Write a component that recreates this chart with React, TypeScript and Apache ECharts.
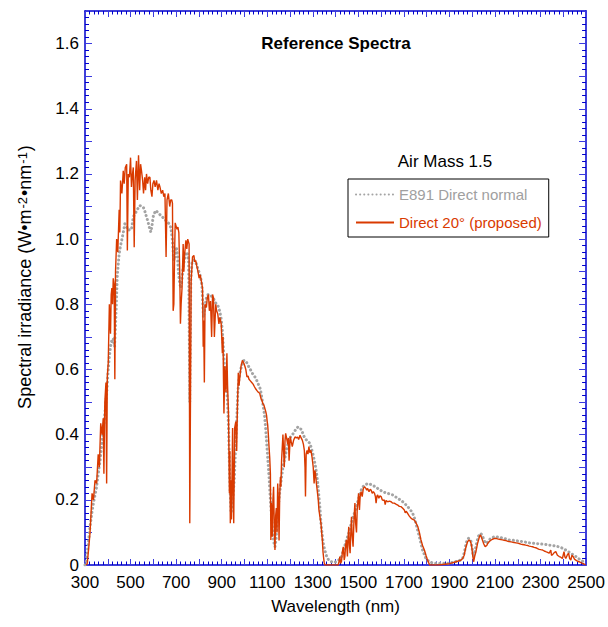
import { useEffect, useRef } from "react";
import * as echarts from "echarts";

// E891 Direct normal (smooth reference spectrum)
const e891Wavelength = [
  300, 305, 315, 322, 330, 337, 344, 351, 358, 366, 373, 380, 388, 395, 402, 407, 412, 418, 424, 430,
  436, 442, 450, 456, 461, 468, 475, 482, 490, 497, 504, 512, 519, 526, 533, 541, 548, 556, 563, 570,
  576, 581, 585, 589, 594, 599, 605, 611, 618, 625, 632, 640, 647, 655, 662, 670, 677, 684, 688, 691,
  695, 701, 706, 710, 715, 720, 725, 730, 737, 744, 750, 755, 760, 765, 770, 778, 786, 793, 800, 807,
  813, 820, 826, 833, 840, 848, 855, 862, 870, 877, 884, 891, 897, 903, 908, 914, 920, 926, 931, 936,
  941, 946, 951, 956, 961, 966, 971, 976, 983, 990, 997, 1004, 1011, 1018, 1026, 1033, 1040, 1048, 1055, 1062,
  1070, 1077, 1083, 1088, 1093, 1098, 1103, 1108, 1113, 1119, 1124, 1129, 1134, 1139, 1144, 1150, 1156, 1163, 1170, 1178,
  1185, 1192, 1200, 1208, 1215, 1222, 1229, 1236, 1243, 1251, 1258, 1265, 1273, 1280, 1288, 1295, 1302, 1310, 1317, 1322,
  1327, 1332, 1336, 1341, 1346, 1353, 1361, 1370, 1382, 1393, 1404, 1415, 1426, 1437, 1448, 1459, 1470, 1481, 1492, 1500,
  1508, 1514, 1520, 1530, 1541, 1552, 1563, 1574, 1585, 1596, 1607, 1618, 1629, 1640, 1651, 1662, 1673, 1684, 1695, 1706,
  1717, 1728, 1739, 1746, 1753, 1760, 1768, 1775, 1782, 1790, 1797, 1805, 1812, 1823, 1834, 1850, 1863, 1880, 1892, 1908,
  1922, 1940, 1950, 1958, 1966, 1973, 1979, 1984, 1990, 1995, 2000, 2005, 2010, 2016, 2022, 2027, 2031, 2038, 2044, 2049,
  2055, 2060, 2066, 2075, 2082, 2089, 2097, 2104, 2118, 2133, 2148, 2162, 2177, 2192, 2206, 2221, 2235, 2250, 2265, 2279,
  2294, 2309, 2323, 2338, 2352, 2367, 2378, 2389, 2400, 2411, 2422, 2433, 2444, 2455, 2466, 2477, 2484, 2491, 2498,
];
const e891Irradiance = [
  0, 0.005, 0.07, 0.117, 0.16, 0.19, 0.215, 0.24, 0.28, 0.32, 0.365, 0.41, 0.47, 0.525, 0.6, 0.64, 0.67, 0.69, 0.695, 0.67,
  0.77, 0.89, 0.955, 0.98, 0.996, 1.02, 1.047, 1.04, 1.027, 1.03, 1.03, 1.068, 1.078, 1.085, 1.095, 1.103, 1.1, 1.098, 1.085, 1.068,
  1.055, 1.04, 1.03, 1.022, 1.04, 1.068, 1.08, 1.088, 1.083, 1.078, 1.073, 1.068, 1.062, 1.057, 1.052, 1.047, 1.035, 0.996, 0.95, 0.935,
  0.95, 0.976, 0.95, 0.9, 0.87, 0.85, 0.87, 0.91, 0.94, 0.96, 0.955, 0.93, 0.5, 0.88, 0.93, 0.935, 0.93, 0.915, 0.9, 0.885,
  0.86, 0.76, 0.79, 0.82, 0.83, 0.83, 0.825, 0.82, 0.81, 0.8, 0.795, 0.78, 0.76, 0.72, 0.66, 0.59, 0.55, 0.5, 0.4, 0.25,
  0.16, 0.18, 0.22, 0.27, 0.36, 0.44, 0.53, 0.57, 0.6, 0.615, 0.628, 0.627, 0.62, 0.61, 0.6, 0.59, 0.583, 0.575, 0.565, 0.553,
  0.54, 0.51, 0.485, 0.46, 0.42, 0.37, 0.32, 0.27, 0.21, 0.148, 0.1, 0.07, 0.056, 0.08, 0.13, 0.19, 0.23, 0.27, 0.305, 0.33,
  0.355, 0.373, 0.39, 0.398, 0.404, 0.412, 0.42, 0.424, 0.42, 0.415, 0.4, 0.39, 0.383, 0.378, 0.373, 0.355, 0.337, 0.31, 0.28, 0.25,
  0.21, 0.17, 0.128, 0.095, 0.067, 0.045, 0.026, 0.015, 0.01, 0.008, 0.01, 0.016, 0.026, 0.05, 0.077, 0.1, 0.13, 0.155, 0.18, 0.2,
  0.22, 0.232, 0.24, 0.246, 0.25, 0.248, 0.245, 0.24, 0.235, 0.23, 0.225, 0.222, 0.22, 0.217, 0.215, 0.21, 0.204, 0.2, 0.194, 0.187,
  0.179, 0.17, 0.158, 0.145, 0.128, 0.108, 0.087, 0.066, 0.046, 0.032, 0.02, 0.014, 0.01, 0.007, 0.005, 0.005, 0.005, 0.005, 0.005, 0.007,
  0.01, 0.012, 0.016, 0.02, 0.04, 0.066, 0.078, 0.082, 0.08, 0.072, 0.05, 0.026, 0.035, 0.056, 0.075, 0.088, 0.092, 0.097, 0.09, 0.082,
  0.072, 0.066, 0.07, 0.077, 0.082, 0.085, 0.086, 0.087, 0.085, 0.083, 0.08, 0.077, 0.076, 0.075, 0.073, 0.072, 0.07, 0.068, 0.067, 0.066,
  0.065, 0.064, 0.063, 0.061, 0.06, 0.058, 0.056, 0.054, 0.05, 0.046, 0.041, 0.036, 0.031, 0.026, 0.02, 0.015, 0.012, 0.008, 0.004,
];

// Direct 20° (proposed) (high-resolution spectrum)
const direct20Wavelength = [
  305, 310, 316, 322, 331, 337, 344, 351, 358, 363, 369, 375, 380, 383, 387, 392, 395, 398, 402, 407,
  410, 412, 415, 418, 421, 424, 428, 431, 434, 439, 444, 450, 453, 456, 462, 468, 472, 477, 483, 486,
  490, 495, 500, 504, 507, 512, 516, 520, 526, 530, 535, 540, 544, 548, 553, 557, 562, 566, 570, 575,
  580, 585, 589, 594, 598, 603, 608, 614, 620, 625, 629, 635, 641, 646, 651, 656, 660, 666, 672, 676,
  681, 684, 687, 690, 694, 696, 700, 704, 708, 712, 716, 719, 722, 726, 731, 734, 737, 743, 747, 751,
  757, 760, 763, 766, 772, 778, 782, 786, 790, 795, 801, 806, 810, 816, 819, 821, 824, 827, 833, 837,
  842, 846, 851, 856, 860, 864, 868, 874, 878, 883, 888, 892, 898, 903, 906, 908, 910, 914, 919, 923,
  926, 930, 934, 936, 938, 941, 943, 946, 948, 950, 953, 957, 962, 966, 969, 973, 976, 979, 985, 991,
  997, 1002, 1006, 1011, 1016, 1020, 1026, 1032, 1038, 1044, 1050, 1055, 1061, 1067, 1073, 1077, 1081, 1086, 1090, 1094,
  1097, 1100, 1102, 1105, 1108, 1111, 1114, 1116, 1118, 1120, 1122, 1125, 1128, 1131, 1134, 1137, 1140, 1143, 1146, 1149,
  1152, 1155, 1158, 1160, 1163, 1166, 1169, 1172, 1175, 1178, 1181, 1185, 1190, 1193, 1196, 1201, 1205, 1210, 1216, 1222,
  1228, 1233, 1238, 1244, 1249, 1254, 1259, 1263, 1266, 1268, 1271, 1275, 1279, 1283, 1287, 1292, 1297, 1302, 1306, 1309,
  1312, 1316, 1321, 1324, 1327, 1331, 1336, 1339, 1342, 1345, 1347, 1350, 1353, 1360, 1380, 1400, 1412, 1415, 1419, 1422,
  1426, 1430, 1434, 1438, 1441, 1444, 1448, 1452, 1455, 1458, 1461, 1464, 1467, 1470, 1473, 1477, 1481, 1485, 1488, 1492,
  1495, 1499, 1501, 1505, 1508, 1512, 1517, 1522, 1527, 1533, 1537, 1541, 1547, 1552, 1556, 1561, 1566, 1571, 1575, 1578,
  1582, 1585, 1590, 1595, 1600, 1605, 1610, 1614, 1618, 1622, 1629, 1636, 1644, 1650, 1658, 1665, 1673, 1680, 1688, 1695,
  1702, 1706, 1710, 1717, 1724, 1732, 1739, 1746, 1754, 1761, 1768, 1775, 1782, 1790, 1797, 1804, 1810, 1813, 1850, 1900,
  1929, 1951, 1958, 1965, 1969, 1973, 1980, 1987, 1991, 1995, 1999, 2002, 2006, 2009, 2012, 2016, 2019, 2023, 2028, 2031,
  2035, 2038, 2042, 2046, 2050, 2054, 2057, 2060, 2064, 2068, 2075, 2082, 2089, 2096, 2104, 2111, 2119, 2126, 2133, 2140,
  2148, 2155, 2162, 2170, 2177, 2185, 2192, 2199, 2206, 2213, 2221, 2228, 2235, 2243, 2250, 2257, 2265, 2272, 2279, 2287,
  2294, 2301, 2309, 2316, 2323, 2331, 2338, 2345, 2348, 2352, 2360, 2367, 2374, 2382, 2389, 2396, 2403, 2407, 2411, 2417,
  2423, 2428, 2433, 2438, 2443, 2449, 2455, 2462, 2469, 2477, 2484, 2491, 2498,
];
const direct20Irradiance = [
  0, 0.005, 0.05, 0.098, 0.22, 0.2, 0.26, 0.25, 0.34, 0.3, 0.435, 0.4, 0.45, 0.28, 0.5, 0.56, 0.25, 0.58, 0.62, 0.8,
  0.74, 0.71, 0.83, 0.85, 0.8, 0.88, 0.86, 0.57, 0.9, 1.0, 0.96, 1.09, 1.02, 1.18, 1.14, 1.21, 1.17, 1.22, 1.23, 0.965,
  1.2, 1.19, 1.25, 1.16, 1.19, 1.22, 0.975, 1.18, 1.24, 1.12, 1.257, 1.15, 1.23, 1.21, 1.18, 1.14, 1.19, 1.15, 1.2, 1.17,
  1.19, 1.19, 1.15, 1.13, 1.17, 1.18, 1.16, 1.18, 1.15, 1.17, 1.16, 1.14, 1.15, 1.13, 1.14, 0.945, 1.12, 1.14, 1.1, 1.12,
  1.12, 1.11, 0.78, 0.8, 0.98, 1.05, 1.04, 1.03, 1.037, 1.02, 0.9, 0.74, 0.8, 0.85, 0.985, 0.9, 0.95, 0.996, 0.97, 1.0,
  0.985, 0.128, 0.5, 0.87, 0.945, 0.95, 0.93, 0.935, 0.92, 0.904, 0.88, 0.89, 0.874, 0.85, 0.67, 0.75, 0.56, 0.8, 0.79, 0.82,
  0.83, 0.78, 0.81, 0.7, 0.83, 0.82, 0.7, 0.8, 0.78, 0.77, 0.74, 0.76, 0.74, 0.65, 0.7, 0.57, 0.465, 0.61, 0.53, 0.65,
  0.55, 0.466, 0.22, 0.35, 0.128, 0.26, 0.14, 0.3, 0.42, 0.25, 0.128, 0.42, 0.44, 0.35, 0.475, 0.59, 0.55, 0.57, 0.61, 0.628,
  0.62, 0.61, 0.6, 0.577, 0.58, 0.57, 0.565, 0.56, 0.555, 0.547, 0.54, 0.535, 0.53, 0.527, 0.51, 0.505, 0.495, 0.49, 0.48, 0.47,
  0.46, 0.44, 0.43, 0.4, 0.363, 0.33, 0.28, 0.077, 0.19, 0.15, 0.087, 0.2, 0.24, 0.12, 0.046, 0.15, 0.175, 0.1, 0.25, 0.2,
  0.075, 0.22, 0.27, 0.24, 0.32, 0.36, 0.4, 0.35, 0.3, 0.38, 0.404, 0.39, 0.37, 0.39, 0.32, 0.394, 0.38, 0.363, 0.383, 0.393,
  0.39, 0.393, 0.385, 0.398, 0.39, 0.383, 0.37, 0.352, 0.3, 0.21, 0.34, 0.352, 0.34, 0.363, 0.345, 0.352, 0.33, 0.3, 0.25, 0.29,
  0.28, 0.25, 0.22, 0.2, 0.17, 0.15, 0.128, 0.1, 0.077, 0.04, 0.026, 0.008, 0, 0, 0, 0, 0, 0.01, 0.026, 0.005,
  0.01, 0.04, 0.056, 0.015, 0.026, 0.06, 0.077, 0.026, 0.08, 0.117, 0.06, 0.036, 0.1, 0.148, 0.09, 0.056, 0.14, 0.19, 0.13, 0.1,
  0.169, 0.2, 0.22, 0.169, 0.21, 0.225, 0.21, 0.235, 0.24, 0.235, 0.23, 0.235, 0.225, 0.232, 0.23, 0.22, 0.225, 0.22, 0.21, 0.19,
  0.212, 0.215, 0.205, 0.212, 0.21, 0.2, 0.198, 0.2, 0.185, 0.198, 0.194, 0.196, 0.194, 0.19, 0.19, 0.187, 0.184, 0.18, 0.179, 0.174,
  0.169, 0.16, 0.165, 0.158, 0.15, 0.143, 0.14, 0.138, 0.128, 0.118, 0.1, 0.077, 0.06, 0.046, 0.03, 0.015, 0.005, 0, 0, 0.004,
  0.01, 0.015, 0.02, 0.03, 0.045, 0.056, 0.072, 0.077, 0.074, 0.066, 0.05, 0.03, 0.01, 0.02, 0.03, 0.04, 0.05, 0.065, 0.077, 0.085,
  0.092, 0.09, 0.082, 0.074, 0.066, 0.06, 0.056, 0.058, 0.06, 0.066, 0.072, 0.076, 0.079, 0.081, 0.082, 0.08, 0.079, 0.078, 0.077, 0.076,
  0.075, 0.073, 0.072, 0.071, 0.07, 0.069, 0.068, 0.067, 0.066, 0.064, 0.063, 0.062, 0.061, 0.06, 0.058, 0.057, 0.056, 0.054, 0.053, 0.05,
  0.048, 0.047, 0.046, 0.043, 0.041, 0.039, 0.036, 0.046, 0.03, 0.031, 0.038, 0.041, 0.03, 0.026, 0.024, 0.02, 0.041, 0.025, 0.02, 0.03,
  0.036, 0.02, 0.015, 0.03, 0.026, 0.018, 0.015, 0.012, 0.01, 0.007, 0.005, 0.003, 0,
];

const seriesNames = ["E891 Direct normal", "Direct 20° (proposed)"];
const xMin = 300;
const xMax = 2500;
const yMin = 0;
const yMax = 1.7;

const FONT = "'Liberation Sans', Arial, Helvetica, sans-serif";
const AXIS_BLUE = "#0000cc";
const TICK_BLUE = "#3a3ae0";
const RED = "#d93a00";
const GRAY = "#a4a4a4";

function zip(xs: number[], ys: number[]) {
  return xs.map((x, i) => [x, ys[i]]);
}

function xLabel(v: number) {
  return (v - xMin) % 200 === 0 ? String(v) : "";
}
function yLabel(v: number) {
  const r = Math.round(v * 10);
  if (r % 2 !== 0) return "";
  return r === 0 ? "0" : (r / 10).toFixed(1);
}

export default function App() {
  const ref = useRef<HTMLDivElement>(null);
  useEffect(() => {
    if (!ref.current) return;
    const chart = echarts.init(ref.current, null, { renderer: "svg" });
    const tickCommon = {
      axisLine: { show: true, onZero: false, lineStyle: { color: AXIS_BLUE, width: 1.5 } },
      splitLine: { show: false },
    };
    const xTicks = {
      axisTick: { show: true, inside: true, length: 6, lineStyle: { color: TICK_BLUE, width: 1 } },
      minorTick: { show: true, splitNumber: 5, length: 3.5, lineStyle: { color: AXIS_BLUE, width: 1 } },
      minorSplitLine: { show: false },
    };
    const yTicks = {
      axisTick: { show: true, inside: true, length: 7, lineStyle: { color: TICK_BLUE, width: 1 } },
      minorTick: { show: true, splitNumber: 5, length: 4, lineStyle: { color: AXIS_BLUE, width: 1 } },
      minorSplitLine: { show: false },
    };
    chart.setOption({
      animation: false,
      backgroundColor: "#ffffff",
      textStyle: { fontFamily: FONT },
      grid: { left: 85, right: 21, top: 11, bottom: 62, containLabel: false },
      graphic: [
        {
          type: "text",
          x: 336,
          y: 43,
          style: {
            text: "Reference Spectra",
            textAlign: "center",
            textVerticalAlign: "middle",
            font: `bold 17px ${FONT}`,
            fill: "#000",
          },
        },
        {
          type: "text",
          x: 445,
          y: 161,
          style: {
            text: "Air Mass 1.5",
            textAlign: "center",
            textVerticalAlign: "middle",
            font: `17px ${FONT}`,
            fill: "#000",
          },
        },
      ],
      legend: {
        left: 348,
        top: 179,
        orient: "vertical",
        padding: [8, 7, 7, 7],
        borderColor: "#000",
        borderWidth: 1,
        itemWidth: 38,
        itemHeight: 14,
        itemGap: 13,
        itemStyle: { opacity: 0 },
        textStyle: { fontSize: 15, fontFamily: FONT },
        data: [
          { name: seriesNames[0], textStyle: { color: "#a0a0a0" } },
          { name: seriesNames[1], textStyle: { color: RED } },
        ],
      },
      xAxis: [
        {
          type: "value",
          position: "bottom",
          min: xMin,
          max: xMax,
          interval: 100,
          ...tickCommon,
          ...xTicks,
          axisLabel: { formatter: xLabel, color: "#000", fontSize: 17, fontFamily: FONT, margin: 9 },
          name: "Wavelength (nm)",
          nameLocation: "middle",
          nameGap: 33,
          nameTextStyle: { fontSize: 17, color: "#000", fontFamily: FONT },
        },
        {
          type: "value",
          position: "top",
          min: xMin,
          max: xMax,
          interval: 100,
          ...tickCommon,
          ...xTicks,
          axisLabel: { show: false },
        },
      ],
      yAxis: [
        {
          type: "value",
          position: "left",
          min: yMin,
          max: yMax,
          interval: 0.1,
          ...tickCommon,
          ...yTicks,
          axisLabel: { formatter: yLabel, color: "#000", fontSize: 17, fontFamily: FONT, margin: 6 },
          name: "Spectral irradiance (W•m{sup|-2}•nm{sup|-1})",
          nameLocation: "middle",
          nameRotate: 90,
          nameGap: 51,
          nameTextStyle: {
            fontSize: 18,
            color: "#000",
            fontFamily: FONT,
            padding: [0, 0, 0, 22],
            rich: {
              sup: {
                fontSize: 13,
                color: "#000",
                fontFamily: FONT,
                verticalAlign: "top",
                lineHeight: 18,
                padding: [0, 1, 0, 1],
              },
            },
          },
        },
        {
          type: "value",
          position: "right",
          min: yMin,
          max: yMax,
          interval: 0.1,
          ...tickCommon,
          ...yTicks,
          axisLabel: { show: false },
        },
      ],
      series: [
        {
          name: seriesNames[0],
          type: "line",
          xAxisIndex: 0,
          yAxisIndex: 0,
          data: zip(e891Wavelength, e891Irradiance),
          symbol: "none",
          showSymbol: false,
          z: 2,
          color: GRAY,
          lineStyle: { color: GRAY, width: 3, type: [0.1, 4], cap: "round" },
        },
        {
          name: seriesNames[1],
          type: "line",
          xAxisIndex: 0,
          yAxisIndex: 0,
          data: zip(direct20Wavelength, direct20Irradiance),
          symbol: "none",
          showSymbol: false,
          z: 3,
          color: RED,
          lineStyle: { color: RED, width: 1.4 },
        },
      ],
    });
    return () => chart.dispose();
  }, []);
  return (
    <div
      ref={ref}
      style={{ position: "fixed", left: 0, top: 0, width: 608, height: 627, background: "#fff" }}
    />
  );
}
